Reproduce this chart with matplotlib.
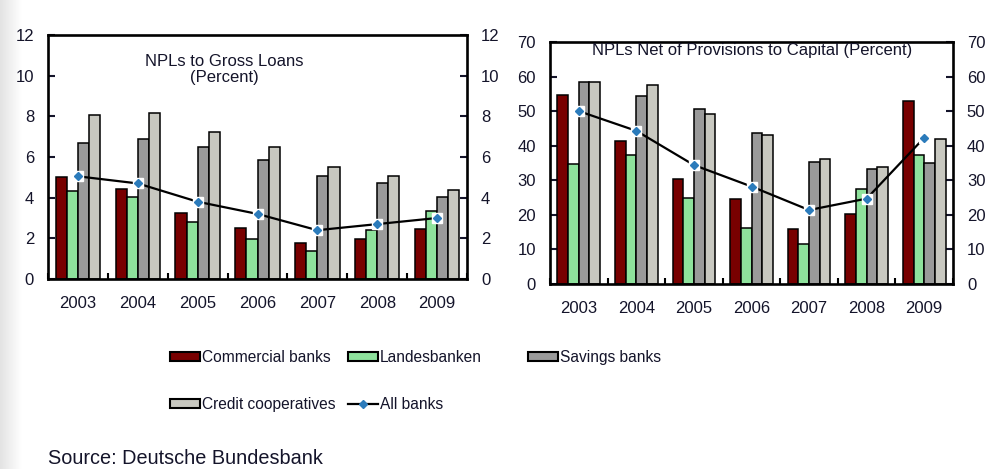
import numpy as np
import matplotlib
matplotlib.use("Agg")
import matplotlib.pyplot as plt
from matplotlib.patches import Patch
from matplotlib.lines import Line2D

plt.rcParams['font.family'] = ['Liberation Sans', 'DejaVu Sans']

years = ["2003", "2004", "2005", "2006", "2007", "2008", "2009"]
series = ["Commercial banks", "Landesbanken", "Savings banks", "Credit cooperatives"]

# NPLs to gross loans (percent)
gross_commercial = [5.0, 4.45, 3.25, 2.5, 1.75, 1.95, 2.45]
gross_landes = [4.35, 4.05, 2.8, 1.95, 1.4, 2.4, 3.35]
gross_savings = [6.7, 6.9, 6.5, 5.85, 5.05, 4.7, 4.05]
gross_credit = [8.05, 8.15, 7.25, 6.5, 5.5, 5.05, 4.4]
gross_all = [5.05, 4.7, 3.8, 3.2, 2.4, 2.7, 3.0]

# NPLs net of provisions to capital (percent)
cap_commercial = [54.8, 41.3, 30.5, 24.5, 15.9, 20.2, 53.0]
cap_landes = [34.8, 37.4, 24.8, 16.2, 11.5, 27.4, 37.4]
cap_savings = [58.4, 54.4, 50.5, 43.6, 35.3, 33.2, 34.9]
cap_credit = [58.4, 57.5, 49.3, 43.2, 36.2, 33.8, 41.8]
cap_all = [50.0, 44.3, 34.4, 28.2, 21.4, 24.7, 42.3]

colors = ["#780000", "#8ee29c", "#9a9a9a", "#c8c8c0"]
text_col = "#14142a"
W, H = 987, 469

fig = plt.figure(figsize=(W / 100, H / 100), dpi=100)

# grey fade along the left edge
gax = fig.add_axes([0, 0, 22 / W, 1])
grad = np.linspace(0.89, 1.0, 50)[None, :]
gax.imshow(np.dstack([grad, grad, grad]), aspect="auto", extent=[0, 1, 0, 1])
gax.axis("off")


def panel(rect, bars, allb, ymax, step, title, tx, ty):
    ax = fig.add_axes(rect)
    x = np.arange(len(years))
    w = 0.185
    for i, (vals, c) in enumerate(zip(bars, colors)):
        ax.bar(x + (i - 1.5) * w, vals, w, color=c, edgecolor="black",
               linewidth=1.1, zorder=2)
    ax.plot(x, allb, color="black", lw=1.6, zorder=3)
    ax.plot(x, allb, ls="none", marker="s", ms=7, mfc="white", mec="white", zorder=4)
    ax.plot(x, allb, ls="none", marker="D", ms=4, mfc="#2b7bbb", mec="#2b7bbb", zorder=5)
    ax.set_xlim(-0.5, len(years) - 0.5)
    ax.set_ylim(0, ymax)
    ax.set_yticks(np.arange(0, ymax + 1, step))
    ax.set_xticks(x)
    ax.set_xticklabels(years)
    ax.set_xticks(np.arange(-0.5, len(years)), minor=True)
    ax.tick_params(axis="x", which="major", length=0, pad=12, labelsize=12, colors=text_col)
    ax.tick_params(axis="x", which="minor", direction="in", length=4, width=1.5)
    ax.tick_params(axis="y", direction="in", length=5, width=1.5, right=True,
                   labelright=True, pad=10, labelsize=12, colors=text_col)
    for s in ax.spines.values():
        s.set_linewidth(1.9)
    ax.text(tx, ty, title, transform=ax.transAxes, ha="center", va="top",
            fontsize=12, color=text_col, linespacing=1.1)
    return ax


panel([48 / W, 1 - 279 / H, 419 / W, 244 / H],
      [gross_commercial, gross_landes, gross_savings, gross_credit], gross_all,
      12, 2, "NPLs to Gross Loans\n(Percent)", (224 - 48) / 419, (279 - 54) / 244)
panel([550 / W, 1 - 284 / H, 403 / W, 242 / H],
      [cap_commercial, cap_landes, cap_savings, cap_credit], cap_all,
      70, 10, "NPLs Net of Provisions to Capital (Percent)", (752 - 550) / 403, (284 - 43) / 242)

handles = [Patch(facecolor=c, edgecolor="black", linewidth=1.5) for c in colors]
line_h = Line2D([], [], color="black", lw=1.6, marker="D", ms=4, mfc="#2b7bbb", mec="#2b7bbb")
legkw = dict(frameon=False, fontsize=11.2, handlelength=1.95, handleheight=0.58,
             handletextpad=0.12, labelspacing=2.05, borderpad=0, borderaxespad=0,
             labelcolor=text_col, loc="upper left")
cols = [([handles[0], handles[3]], [series[0], series[3]], 170),
        ([handles[1], line_h], [series[1], "All banks"], 348),
        ([handles[2]], [series[2]], 528)]
for hs, ls, px in cols:
    fig.legend(hs, ls, bbox_to_anchor=(px / W, 1 - 350 / H), **legkw)

fig.text(48 / W, 1 - 458 / H, "Source: Deutsche Bundesbank", fontsize=14.3,
         color=text_col, va="center", ha="left")

fig.savefig("out.png", dpi=100)
